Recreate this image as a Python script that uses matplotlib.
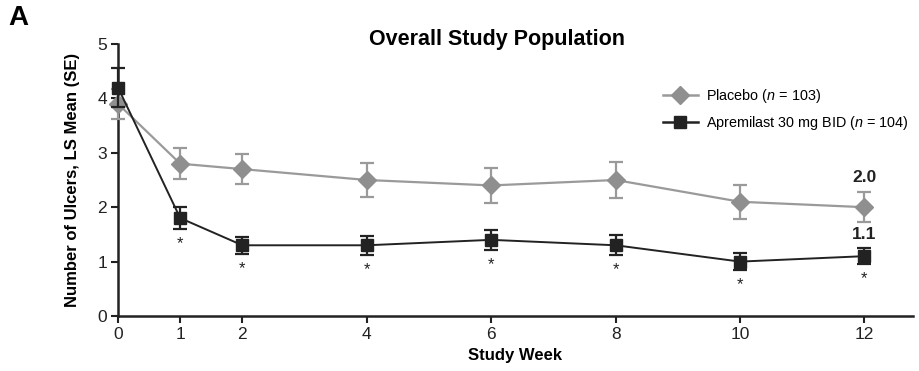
import matplotlib
matplotlib.use("Agg")
import matplotlib.pyplot as plt
from matplotlib.lines import Line2D
import numpy as np

plt.rcParams["font.family"] = ["Liberation Sans", "DejaVu Sans"]
plt.rcParams["mathtext.fontset"] = "custom"
plt.rcParams["mathtext.rm"] = "Liberation Sans"
plt.rcParams["mathtext.it"] = "Liberation Sans:italic"

weeks = [0, 1, 2, 4, 6, 8, 10, 12]
placebo_mean = [3.9, 2.8, 2.7, 2.5, 2.4, 2.5, 2.1, 2.0]
placebo_se = [0.27, 0.28, 0.28, 0.32, 0.32, 0.33, 0.31, 0.28]
apremilast_mean = [4.2, 1.8, 1.3, 1.3, 1.4, 1.3, 1.0, 1.1]
apremilast_se = [0.36, 0.2, 0.16, 0.17, 0.18, 0.18, 0.16, 0.15]
significant = [False, True, True, True, True, True, True, True]
end_labels = ["2.0", "1.1"]

placebo_color = "#9a9a9a"
apremilast_color = "#222222"
placebo_label = "Placebo ($\\it{n}$ = 103)"
apremilast_label = "Apremilast 30 mg BID ($\\it{n}$ = 104)"

fig = plt.figure(figsize=(9.19, 3.71), dpi=100)
ax = fig.add_axes([118 / 919, 55 / 371, 795 / 919, 272 / 371])

ax.errorbar(weeks, placebo_mean, yerr=placebo_se, color=placebo_color,
            marker="D", markersize=9, markerfacecolor="#8f8f8f",
            markeredgecolor="#8f8f8f", linewidth=1.6, elinewidth=1.6,
            capsize=5, capthick=1.6, clip_on=False, zorder=3)
ax.errorbar(weeks, apremilast_mean, yerr=apremilast_se, color=apremilast_color,
            marker="s", markersize=9, linewidth=1.4, elinewidth=1.6,
            capsize=5, capthick=1.6, clip_on=False, zorder=4)

for wk, m, se, sig in zip(weeks, apremilast_mean, apremilast_se, significant):
    if sig:
        ax.text(wk, m - se - 0.27, "*", ha="center", va="center",
                fontsize=12, color="#222222")

ax.text(weeks[-1], placebo_mean[-1] + 0.55, end_labels[0], ha="center",
        va="center", fontsize=12.5, fontweight="bold", color="#222222")
ax.text(weeks[-1], apremilast_mean[-1] + 0.4, end_labels[1], ha="center",
        va="center", fontsize=12.5, fontweight="bold", color="#222222")

ax.set_xlim(0, 12.78)
ax.set_ylim(0, 5)
ax.set_xticks(weeks)
ax.set_yticks([0, 1, 2, 3, 4, 5])
ax.tick_params(direction="out", length=5, width=1.5, labelsize=12.5,
               colors="#222222", pad=3)
for side in ["top", "right"]:
    ax.spines[side].set_visible(False)
for side in ["left", "bottom"]:
    ax.spines[side].set_linewidth(1.8)
    ax.spines[side].set_color("#222222")

ax.set_xlabel("Study Week", fontsize=12, fontweight="bold", labelpad=4)
ax.set_ylabel("Number of Ulcers, LS Mean (SE)", fontsize=12,
              fontweight="bold", labelpad=12)

fig.text(497 / 919, 1 - 40 / 371, "Overall Study Population", ha="center",
         va="center", fontsize=15.5, fontweight="bold")
fig.text(8 / 919, 1 - 18 / 371, "A", ha="left", va="center",
         fontsize=20, fontweight="bold")

handles = [
    Line2D([], [], color=placebo_color, marker="D", markersize=9,
           markerfacecolor="#8f8f8f", markeredgecolor="#8f8f8f", linewidth=1.8),
    Line2D([], [], color=apremilast_color, marker="s", markersize=9,
           linewidth=1.8),
]
ax.legend(handles, [placebo_label, apremilast_label], loc="upper left",
          bbox_to_anchor=(663 / 919, 1 - 87 / 371),
          bbox_transform=fig.transFigure, frameon=False, fontsize=10.4,
          handlelength=2.4, handletextpad=0.6, labelspacing=0.6,
          borderaxespad=0, borderpad=0)

fig.savefig("out.png", dpi=100)
